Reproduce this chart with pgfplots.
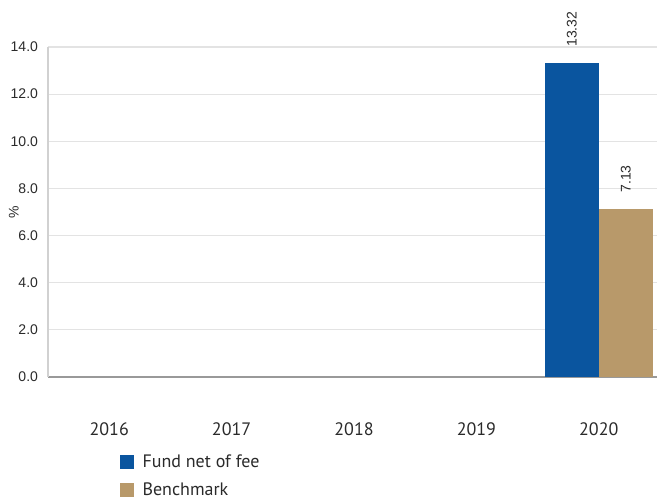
\documentclass[border=0pt]{standalone}
\usepackage{pgfplots}
\pgfplotsset{compat=1.18}
\usepackage{fontspec}
\setmainfont{Liberation Sans}
\newfontfamily\labelfont{PT Sans}
\definecolor{fundblue}{HTML}{0A559F}
\definecolor{benchtan}{HTML}{B8996A}
\definecolor{gridgray}{HTML}{E3E3E3}
\definecolor{txtgray}{HTML}{2A2A2A}

\begin{document}
\begin{tikzpicture}
\path[use as bounding box] (-36pt,-92.25pt) rectangle (456.75pt,282.75pt);
\begin{axis}[
    at={(0pt,0pt)}, anchor=south west,
    scale only axis,
    width=459pt, height=247.5pt,
    xmin=-0.5, xmax=4.5,
    ymin=0, ymax=14,
    ytick={0,2,...,14},
    xtick={0,1,2,3,4},
    xticklabels={2016,2017,2018,2019,2020},
    yticklabel style={
        /pgf/number format/.cd, fixed, fixed zerofill, precision=1,
        /pgf/number format/assume math mode=true,
        /tikz/.cd, font=\fontsize{10.5}{12}\selectfont, text=txtgray, xshift=-4pt},
    xticklabel style={font=\labelfont\fontsize{13.5}{16}\selectfont, text=txtgray,
        yshift=-31pt},
    major tick length=0pt,
    ymajorgrids,
    grid style={gridgray, line width=0.8pt},
    axis lines*=left,
    x axis line style={draw=black!40, line width=1.4pt},
    y axis line style={draw=black!18, line width=0.8pt},
    ylabel={\%},
    ylabel style={at={(axis description cs:-0.056,0.5)}, anchor=center,
        font=\fontsize{10.5}{12}\selectfont, text=txtgray},
    ybar=0pt,
    bar width=40.5pt,
    nodes near coords,
    nodes near coords style={font=\fontsize{10.5}{12}\selectfont, text=txtgray,
        /pgf/number format/.cd, fixed, fixed zerofill, precision=2,
        assume math mode=true,
        /tikz/.cd, rotate=90, anchor=west, inner sep=0pt, xshift=12pt},
    legend style={at={(axis description cs:0.117,-0.228)}, anchor=north west,
        draw=none, fill=none, inner sep=0pt,
        font=\labelfont\fontsize{13.5}{15}\selectfont, text=txtgray,
        row sep=6pt},
    legend cell align=left,
    legend image code/.code={\fill[#1] (0pt,-5pt) rectangle (10.5pt,5.5pt);
        \path (15pt,0pt);},
]
\addplot[draw=none, fill=fundblue] coordinates {(4,13.32)};
\addplot[draw=none, fill=benchtan] coordinates {(4,7.13)};
\legend{Fund net of fee, Benchmark}
\end{axis}
\end{tikzpicture}
\end{document}
